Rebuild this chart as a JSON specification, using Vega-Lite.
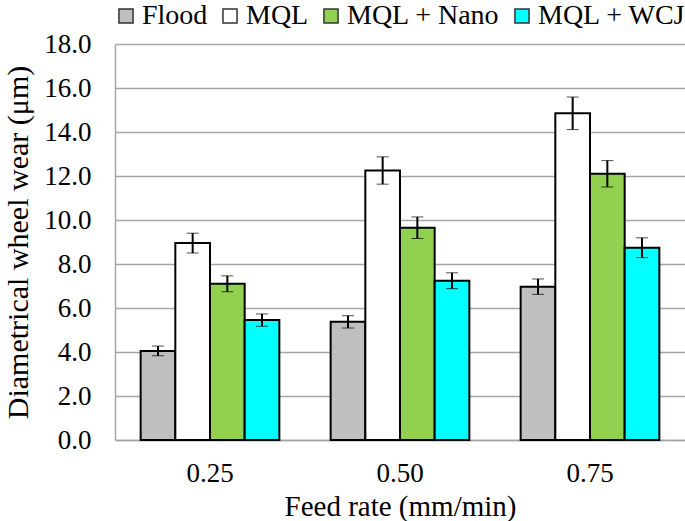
{
  "$schema": "https://vega.github.io/schema/vega-lite/v6.json",
  "width": 570,
  "height": 396,
  "autosize": "none",
  "padding": {"left": 115, "top": 44, "right": 0, "bottom": 81},
  "background": "white",
  "config": {
    "font": "Liberation Serif",
    "view": {"stroke": null}
  },
  "data": {
    "values": [
      {"feed": "0.25", "method": "Flood", "value": 4.05, "err": 0.22},
      {"feed": "0.25", "method": "MQL", "value": 8.95, "err": 0.45},
      {"feed": "0.25", "method": "MQL + Nano", "value": 7.1, "err": 0.36},
      {"feed": "0.25", "method": "MQL + WCJ", "value": 5.45, "err": 0.28},
      {"feed": "0.50", "method": "Flood", "value": 5.37, "err": 0.28},
      {"feed": "0.50", "method": "MQL", "value": 12.25, "err": 0.62},
      {"feed": "0.50", "method": "MQL + Nano", "value": 9.65, "err": 0.49},
      {"feed": "0.50", "method": "MQL + WCJ", "value": 7.24, "err": 0.36},
      {"feed": "0.75", "method": "Flood", "value": 6.97, "err": 0.35},
      {"feed": "0.75", "method": "MQL", "value": 14.85, "err": 0.74},
      {"feed": "0.75", "method": "MQL + Nano", "value": 12.1, "err": 0.6},
      {"feed": "0.75", "method": "MQL + WCJ", "value": 8.74, "err": 0.45}
    ]
  },
  "encoding": {
    "x": {
      "field": "feed", "type": "nominal", "sort": null,
      "scale": {"paddingInner": 0.27, "paddingOuter": 0.135},
      "axis": {"title": "Feed rate (mm/min)", "labelAngle": 0, "labelFont": "Liberation Serif", "titleFont": "Liberation Serif", "labelColor": "black", "titleColor": "black", "titleFontWeight": "normal", "labelFontSize": 27, "titleFontSize": 29, "labelPadding": 20, "titlePadding": 6, "ticks": false, "domainColor": "#a6a6a6", "domainWidth": 1.5}
    },
    "xOffset": {"field": "method", "type": "nominal", "sort": ["Flood", "MQL", "MQL + Nano", "MQL + WCJ"]}
  },
  "layer": [
    {
      "mark": {"type": "bar", "stroke": "black", "strokeWidth": 2},
      "encoding": {
        "y": {
          "field": "value", "type": "quantitative",
          "scale": {"domain": [0, 18]},
          "title": "Diametrical wheel wear (μm)",
          "axis": {"format": ".1f", "values": [0,2,4,6,8,10,12,14,16,18], "labelOverlap": false, "labelFont": "Liberation Serif", "titleFont": "Liberation Serif", "labelColor": "black", "titleColor": "black", "titleFontWeight": "normal", "labelFontSize": 27, "titleFontSize": 30, "labelPadding": 24, "titlePadding": 10, "ticks": false, "domainColor": "#a6a6a6", "domainWidth": 1.5, "gridColor": "#a6a6a6", "gridWidth": 1.5}
        },
        "fill": {
          "field": "method", "type": "nominal",
          "scale": {"domain": ["Flood", "MQL", "MQL + Nano", "MQL + WCJ"], "range": ["#bfbfbf", "#ffffff", "#92d050", "#00ffff"]},
          "legend": {"title": null, "orient": "none", "legendX": -3, "legendY": -42, "direction": "horizontal", "columns": 4, "labelFontSize": 28, "labelFont": "Liberation Serif", "labelColor": "black", "symbolType": "square", "symbolSize": 200, "symbolStrokeColor": "#333333", "symbolStrokeWidth": 1.5, "columnPadding": 8, "labelOffset": 2, "padding": 0}
        }
      }
    },
    {
      "mark": {"type": "errorbar", "ticks": {"size": 12, "color": "black", "strokeWidth": 2}, "rule": {"color": "black", "strokeWidth": 2}},
      "encoding": {
        "y": {"field": "value", "type": "quantitative", "title": "Diametrical wheel wear (μm)"},
        "yError": {"field": "err"}
      }
    }
  ]
}
